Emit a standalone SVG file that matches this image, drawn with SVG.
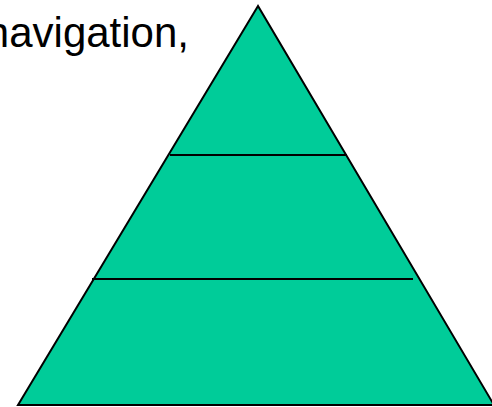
<svg xmlns="http://www.w3.org/2000/svg" width="492" height="407" viewBox="0 0 492 407">
<style>
.lbl{font-family:"Liberation Sans",Arial,sans-serif;font-size:42px;fill:#000}
.tri{fill:#00CC99;stroke:#000;stroke-width:2}
.div{stroke:#000;stroke-width:2;fill:none}
</style>
<rect width="492" height="407" fill="#fff"/>
<g id="label"><text class="lbl" x="189" y="47" text-anchor="end">navigation,</text></g>
<g id="pyramid">
<polygon class="tri" points="258,6 18,405 494,405"/>
</g>
<g id="connectors">
<line class="div" x1="170" y1="155" x2="347" y2="155"/>
<line class="div" x1="92" y1="279" x2="413" y2="279"/>
</g>
</svg>
